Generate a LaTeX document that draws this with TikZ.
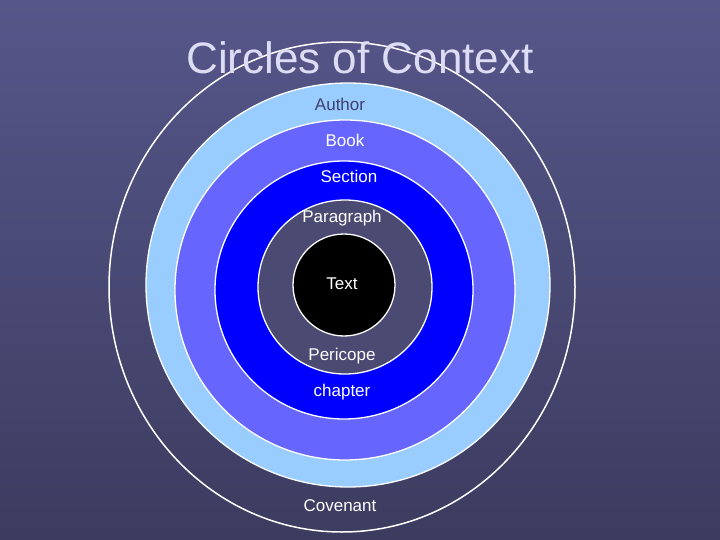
\documentclass[tikz,border=0pt]{standalone}
\usepackage{fontspec}
\setmainfont{Liberation Sans}
\definecolor{bgtop}{HTML}{56568A}
\definecolor{bgbot}{HTML}{3C3C60}
\definecolor{ringa}{HTML}{99CCFF}
\definecolor{ringb}{HTML}{6666FF}
\definecolor{ringc}{HTML}{0000FF}
\definecolor{inner}{HTML}{4A4A72}
\definecolor{titlecol}{HTML}{DCDCF4}
\definecolor{authorcol}{HTML}{404070}
\begin{document}
\begin{tikzpicture}[x=1pt,y=-1pt]
\tikzstyle{lbl}=[font=\fontsize{17}{20}\selectfont,inner sep=0pt,white]
\tikzstyle{ring}=[draw=white,line width=1.3pt]
\shade [top color=bgtop,bottom color=bgbot] (0,0) rectangle (720,540);
\useasboundingbox (0,0) rectangle (720,540);
\begin{scope}
\clip (0,0) rectangle (720,540);
\draw [white,line width=1.5pt] (342,287) ellipse (233 and 245);
\end{scope}
\filldraw [ring,fill=ringa] (348,285) circle (202);
\filldraw [ring,fill=ringb] (345,290) circle (170);
\filldraw [ring,fill=ringc] (344,290) circle (129);
\filldraw [ring,fill=inner] (345,287) circle (87);
\filldraw [ring,fill=black] (344,285) circle (51);
\node [font=\fontsize{44}{48}\selectfont,text=titlecol] (title) at (360,58) {Circles of Context};
\node [lbl,authorcol] (author) at (340,104) {Author};
\node [lbl] (book) at (345,140) {Book};
\node [lbl] (section) at (349,176) {Section};
\node [lbl] (paragraph) at (342,218) {Paragraph};
\node [lbl] (text) at (342,284) {Text};
\node [lbl] (pericope) at (342,356) {Pericope};
\node [lbl] (chapter) at (342,392) {chapter};
\node [lbl] (covenant) at (340,506) {Covenant};
\end{tikzpicture}
\end{document}
